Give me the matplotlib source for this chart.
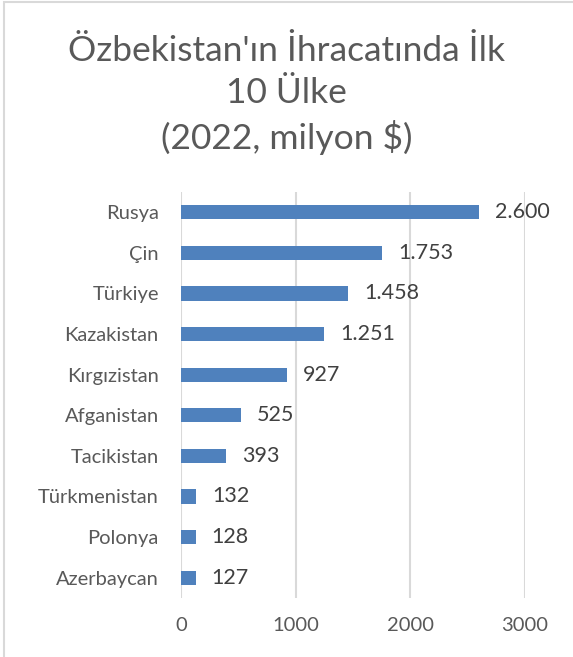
import matplotlib.pyplot as plt
from matplotlib.patches import Rectangle

# data (2022, million $)
countries = ['Rusya', 'Çin', 'Türkiye', 'Kazakistan', 'Kırgızistan',
             'Afganistan', 'Tacikistan', 'Türkmenistan', 'Polonya', 'Azerbaycan']
values = [2600, 1753, 1458, 1251, 927, 525, 393, 132, 128, 127]
xticks = [0, 1000, 2000, 3000]

plt.rcParams['font.family'] = ['Lato', 'DejaVu Sans']
txt = '#595959'

fig = plt.figure(figsize=(5.73, 6.57), dpi=100)
ax = fig.add_axes([0.316, 0.0898, 0.600, 0.618])

pos = list(range(len(countries)))[::-1]
ax.barh(pos, values, height=0.35, color='#4F81BD', zorder=3)

for p, v in zip(pos, values):
    ax.text(v + 140, p, f'{v:,}'.replace(',', '.'), va='center', ha='left',
            fontsize=15.5, color='#404040')

ax.set_yticks(pos)
ax.set_yticklabels(countries, fontsize=14.5, color=txt)
ax.set_xticks(xticks)
ax.set_xticklabels([str(t) for t in xticks], fontsize=14.5, color=txt)
ax.set_xlim(0, 3000)
ax.set_ylim(-0.5, len(countries) - 0.5)
ax.tick_params(axis='y', length=0, pad=16)
ax.tick_params(axis='x', length=0, pad=14)
ax.xaxis.grid(True, color='#D9D9D9', linewidth=1.5, zorder=0)
for s in ax.spines.values():
    s.set_visible(False)

fig.text(0.5, 0.855, "Özbekistan'ın İhracatında İlk\n10 Ülke\n(2022, milyon $)",
         ha='center', va='center', fontsize=25.5, color=txt, linespacing=1.38)

fig.patches.append(Rectangle((0.007, -0.1), 1.2, 1.097, transform=fig.transFigure,
                             fill=False, edgecolor='#D9D9D9', linewidth=1.5))

fig.savefig('out.png', dpi=100)
